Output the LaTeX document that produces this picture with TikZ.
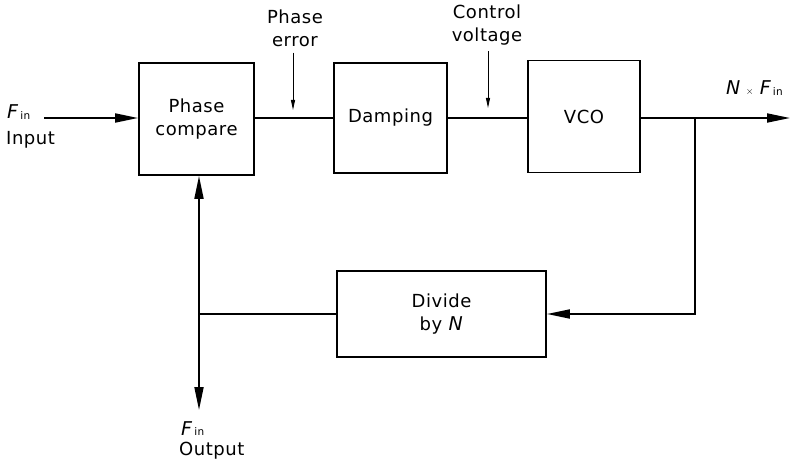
\documentclass[tikz,border=0pt]{standalone}
\usepackage{fontspec}
\setmainfont{DejaVu Sans}[LetterSpace=3]
\usetikzlibrary{arrows.meta}
\newcommand\Fin{{\fontsize{19}{19}\selectfont\textit{F}}\kern1.5pt\raisebox{-0.5pt}{\fontsize{10.5}{10.5}\selectfont in}}
\begin{document}
\begin{tikzpicture}[x=1pt,y=-1pt,
  font=\fontsize{18}{23}\selectfont,
  blk/.style={draw, line width=1.8pt, align=center, inner sep=0pt},
  wire/.style={line width=1.8pt},
  arr/.style={wire, -{Triangle[length=23pt,width=9pt]}},
  sarr/.style={line width=0.9pt, -{Triangle[length=10pt,width=4pt]}},
  lbl/.style={align=center, inner sep=0pt}]
\useasboundingbox (0,0) rectangle (791,465);
% blocks
\node[blk, minimum width=115pt, minimum height=112pt] (pc) at (196.5,119) {Phase\\compare};
\node[blk, minimum width=113pt, minimum height=110pt] (damp) at (390.5,118) {Damping};
\node[blk, minimum width=112pt, minimum height=112pt] (vco) at (584,116.5) {VCO};
\node[blk, minimum width=209pt, minimum height=86pt] (div) at (441.5,314) {Divide\\by {\fontsize{19}{19}\selectfont\textit{N}}};
% labels
\node[lbl, anchor=base west] (fin) at (7,119) {\Fin};
\node[lbl, anchor=base west] (inp) at (6,145) {Input};
\node[lbl] (pe) at (295,28) {Phase\\error};
\node[lbl] (cv) at (487,25) {Control\\voltage};
\node[lbl, anchor=base west] (nf) at (726,95) {{\fontsize{19}{19}\selectfont\textit{N}}\hspace{5pt}{\fontsize{10}{10}\selectfont$\times$}\hspace{6pt}\Fin};
\node[lbl, anchor=base west] (fout) at (181,435) {\Fin};
\node[lbl, anchor=base west] (outl) at (179,455) {Output};
% coordinates
\coordinate (in) at (44,118);
\coordinate (out) at (790,118);
\coordinate (j1) at (695,118);
\coordinate (j2) at (199,314);
\coordinate (dn) at (199,410);
\coordinate (pet) at (293,110);
\coordinate (cvt) at (488,108);
% connectors
\draw[arr] (in) -- (in -| pc.west);
\draw[wire] (pc.east |- j1) -- (damp.west |- j1);
\draw[wire] (damp.east |- j1) -- (vco.west |- j1);
\draw[arr] (vco.east |- j1) -- (out);
\draw[arr] (j1) |- (div.east);
\draw[wire] (div.west) -- (j2);
\draw[wire, {Triangle[length=23pt,width=9pt]}-{Triangle[length=23pt,width=9pt]}] (j2 |- pc.south) -- (dn);
\draw[sarr] (pe.south -| pet) ++(0,6) -- (pet);
\draw[sarr] (cv.south -| cvt) ++(0,6) -- (cvt);
\end{tikzpicture}
\end{document}
